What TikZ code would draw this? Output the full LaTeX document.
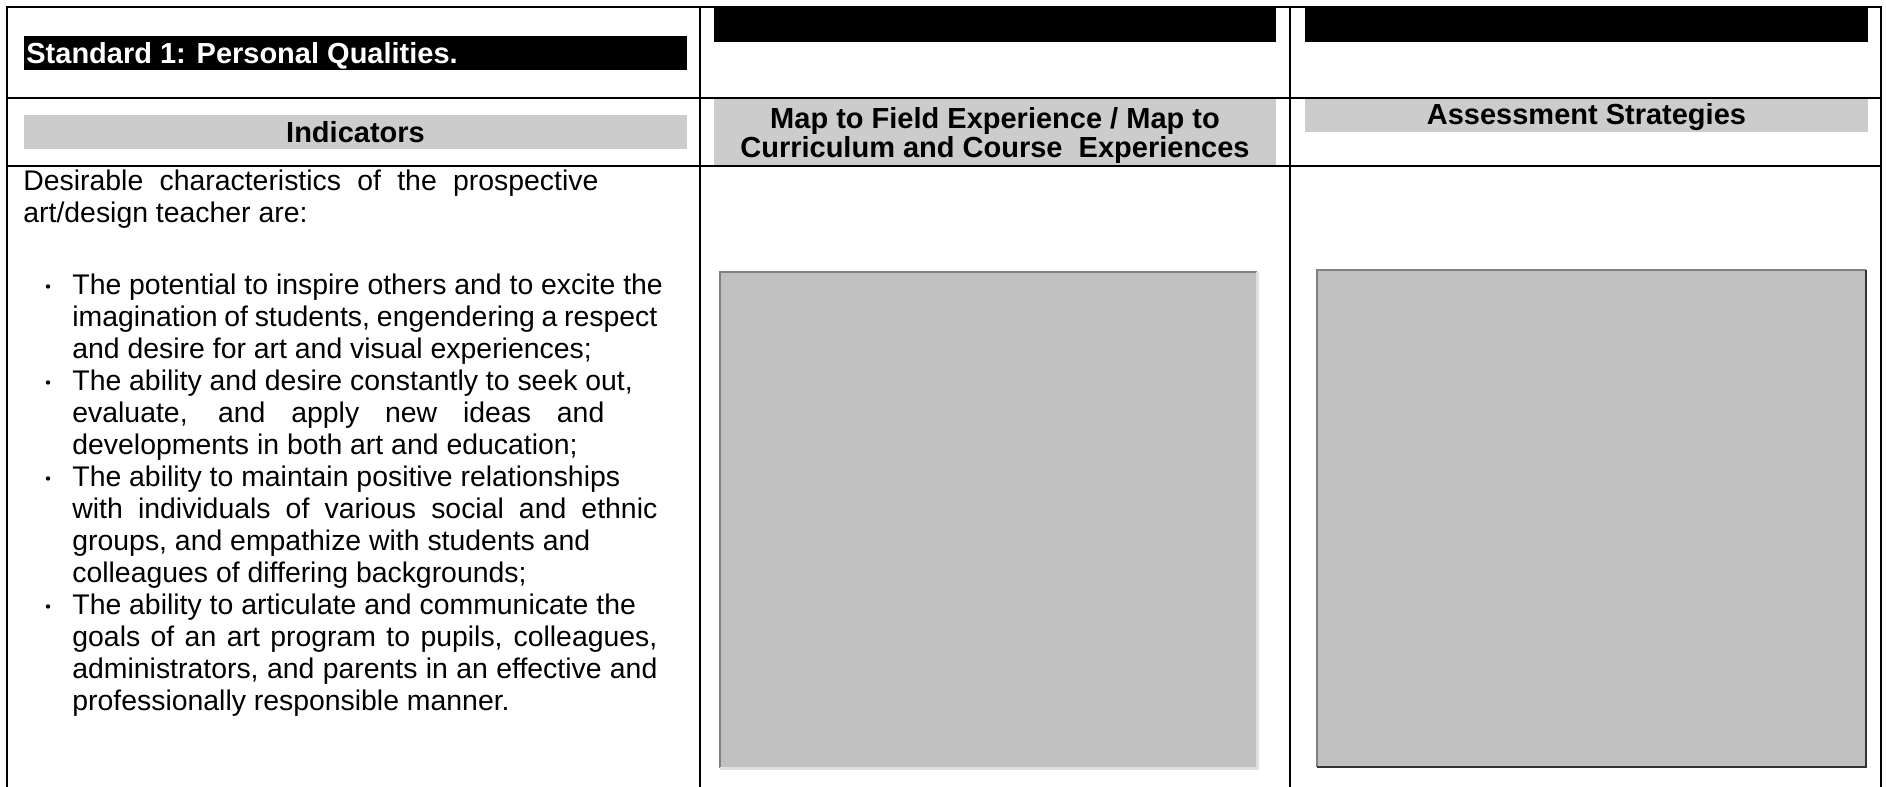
\documentclass[tikz,border=0pt]{standalone}
\usepackage{fontspec}
\setmainfont{Liberation Sans}
\usepackage{tikz}
\usepackage{xcolor}
\usetikzlibrary{calc,positioning}
\definecolor{hdrgrey}{HTML}{CCCCCC}
\definecolor{boxgrey}{HTML}{C0C0C0}
\tikzset{%
	blackbar/.style = {fill=black}, % dark header strip
	greybar/.style  = {fill=hdrgrey}, % light header strip
	frame/.style    = {line width=1pt, line cap=rect},
	hdr/.style      = {font=\bfseries\fontsize{14.5}{17}\selectfont, inner sep=0pt, anchor=base},
	body/.style     = {font=\fontsize{14.2}{16}\selectfont, inner sep=0pt, anchor=base west},
	dot/.style      = {circle, fill=black, inner sep=0pt, minimum size=2.2pt},
}
\newcommand{\fillline}[1]{\makebox[292.5pt][s]{#1}}

\begin{document}
\begin{tikzpicture}[x=0.5pt,y=-0.5pt]
	\useasboundingbox (0,0) rectangle (1886,787);
	
	% header strips
	\fill[blackbar] (24,36) rectangle (687,70);
	\fill[blackbar] (714,7) rectangle (1276,42);
	\fill[blackbar] (1305,7) rectangle (1868,42);
	\fill[greybar] (24,115) rectangle (687,149);
	\fill[greybar] (714,98) rectangle (1276,166);
	\fill[greybar] (1305,98) rectangle (1868,132);
	
	% grey boxes
	\fill[boxgrey] (720,272) rectangle (1257,768);
	\draw[line width=1pt,gray] (720,768) -- (720,272) -- (1257,272);
	\draw[line width=1.5pt,black!12] (1257,272) -- (1257,768) -- (720,768);
	\fill[boxgrey] (1317,270) rectangle (1866,767);
	\draw[line width=1pt,gray] (1317,767) -- (1317,270) -- (1866,270);
	\draw[line width=1.2pt,black!80] (1866,270) -- (1866,767) -- (1317,767);
	
	% table rules
	\coordinate (tl) at (7,7);
	\coordinate (tr) at (1881,7);
	\coordinate (bl) at (7,787);
	\coordinate (br) at (1881,787);
	\draw[frame] (bl) -- (tl) -- (tr) -- (br);
	\draw[frame] (7,97.5) -- (1881,97.5);
	\draw[frame] (7,166) -- (1881,166);
	\draw[frame] (700,7) -- (700,787);
	\draw[frame] (1290,7) -- (1290,787);
	
	% header texts
	\node[hdr,anchor=base west,text=white] (std) at (26,63) {Standard 1: Personal Qualities.};
	\node[hdr] (ind) at (355.5,142) {Indicators};
	\node[hdr] (map) at (995,128.5) {Map to Field Experience / Map to};
	\node[hdr] (cur) at (995,157) {Curriculum and Course\ \ Experiences};
	\node[hdr] (ass) at (1586.5,124) {Assessment Strategies};
	
	% indicators
	\node[body] (intro) at (23,190) {\makebox[287.5pt][s]{Desirable characteristics of the prospective}};
	\node[body] (introb) at (23,222) {art/design teacher are:};
	
	\node[body] (pa) at (72,294) {The potential to inspire others and to excite the};
	\node[body] (pb) at (72,326) {\fillline{imagination of students, engendering a respect}};
	\node[body] (pc) at (72,358) {and desire for art and visual experiences;};
	\node[body] (qa) at (72,390) {The ability and desire constantly to seek out,};
	\node[body] (qb) at (72,422) {\makebox[266pt][s]{evaluate, and apply new ideas and}};
	\node[body] (qc) at (72,454) {developments in both art and education;};
	\node[body] (ra) at (72,486) {The ability to maintain positive relationships};
	\node[body] (rb) at (72,518) {\fillline{with individuals of various social and ethnic}};
	\node[body] (rc) at (72,550) {groups, and empathize with students and};
	\node[body] (rd) at (72,582) {colleagues of differing backgrounds;};
	\node[body] (sa) at (72,614) {The ability to articulate and communicate the};
	\node[body] (sb) at (72,646) {\fillline{goals of an art program to pupils, colleagues,}};
	\node[body] (sc) at (72,678) {\fillline{administrators, and parents in an effective and}};
	\node[body] (sd) at (72,710) {professionally responsible manner.};
	
	\node[dot] (da) at (48,286.5) {};
	\node[dot] (db) at (48,382.5) {};
	\node[dot] (dc) at (48,478.5) {};
	\node[dot] (dd) at (48,606.5) {};
\end{tikzpicture}
\end{document}
